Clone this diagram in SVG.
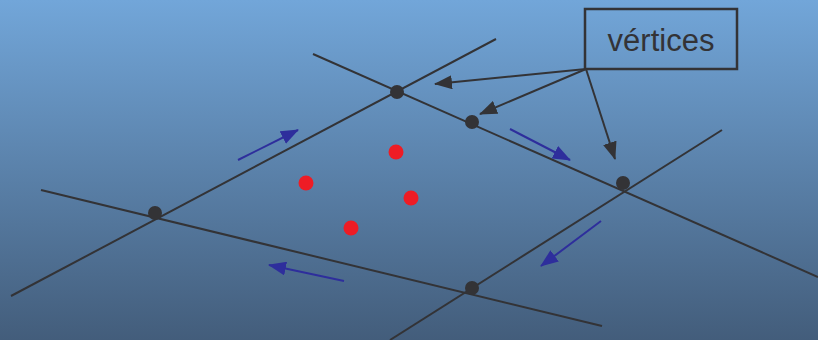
<svg xmlns="http://www.w3.org/2000/svg" width="818" height="340" viewBox="0 0 818 340">
  <defs>
    <linearGradient id="bg" x1="0" y1="0" x2="0" y2="1">
      <stop offset="0" stop-color="#72a6d9"/>
      <stop offset="1" stop-color="#435d7b"/>
    </linearGradient>
    <marker id="headBlue" viewBox="0 0 18 14" refX="17" refY="7" markerWidth="18" markerHeight="14" markerUnits="userSpaceOnUse" orient="auto">
      <path d="M0,0 L18,7 L0,14 Z" fill="#2e2e9c"/>
    </marker>
    <marker id="headDark" viewBox="0 0 18 14" refX="17" refY="7" markerWidth="18" markerHeight="14" markerUnits="userSpaceOnUse" orient="auto">
      <path d="M0,0 L18,7 L0,14 Z" fill="#333336"/>
    </marker>
  </defs>
  <style>
    .edge { stroke: #333336; stroke-width: 2; fill: none; }
    .flow { stroke: #2e2e9c; stroke-width: 2; fill: none; marker-end: url(#headBlue); }
    .callout { stroke: #333336; stroke-width: 2; fill: none; marker-end: url(#headDark); }
    .vertex { fill: #333336; }
    .sample { fill: #ee1c25; }
    .label { font-family: "Liberation Sans", Arial, sans-serif; font-size: 31px; fill: #333336; }
  </style>

  <rect width="818" height="340" fill="url(#bg)"/>

  <!-- four straight lines forming the quadrilateral -->
  <g id="lines">
    <line class="edge" x1="11" y1="296" x2="496" y2="39"/>
    <line class="edge" x1="313" y1="54" x2="818" y2="277"/>
    <line class="edge" x1="41" y1="190" x2="602" y2="326"/>
    <line class="edge" x1="390" y1="340" x2="722" y2="130"/>
  </g>

  <!-- intersection vertices -->
  <g id="vertex-top"><circle class="vertex" cx="397" cy="92" r="7"/></g>
  <g id="vertex-mid"><circle class="vertex" cx="472" cy="122" r="7"/></g>
  <g id="vertex-right"><circle class="vertex" cx="623" cy="183" r="7"/></g>
  <g id="vertex-left"><circle class="vertex" cx="155" cy="213" r="7"/></g>
  <g id="vertex-bottom"><circle class="vertex" cx="472" cy="288" r="7"/></g>

  <!-- interior points -->
  <g id="points">
    <circle class="sample" cx="396" cy="152" r="7.5"/>
    <circle class="sample" cx="306" cy="183" r="7.5"/>
    <circle class="sample" cx="411" cy="198" r="7.5"/>
    <circle class="sample" cx="351" cy="228" r="7.5"/>
  </g>

  <!-- label box -->
  <g id="label-vertices">
    <rect x="585" y="9" width="152" height="60" fill="none" stroke="#333336" stroke-width="2.5"/>
    <text class="label" x="661" y="51" text-anchor="middle">vértices</text>
  </g>

  <!-- connectors: traversal direction and callouts -->
  <g id="connectors">
    <line class="flow" x1="238" y1="160" x2="298" y2="130"/>
    <line class="flow" x1="510" y1="129" x2="570" y2="160"/>
    <line class="flow" x1="601" y1="221" x2="541" y2="266"/>
    <line class="flow" x1="344" y1="281" x2="269" y2="265"/>
    <line class="callout" x1="586" y1="69" x2="435" y2="84"/>
    <line class="callout" x1="586" y1="69" x2="480" y2="114"/>
    <line class="callout" x1="586" y1="69" x2="615" y2="159"/>
  </g>
</svg>
